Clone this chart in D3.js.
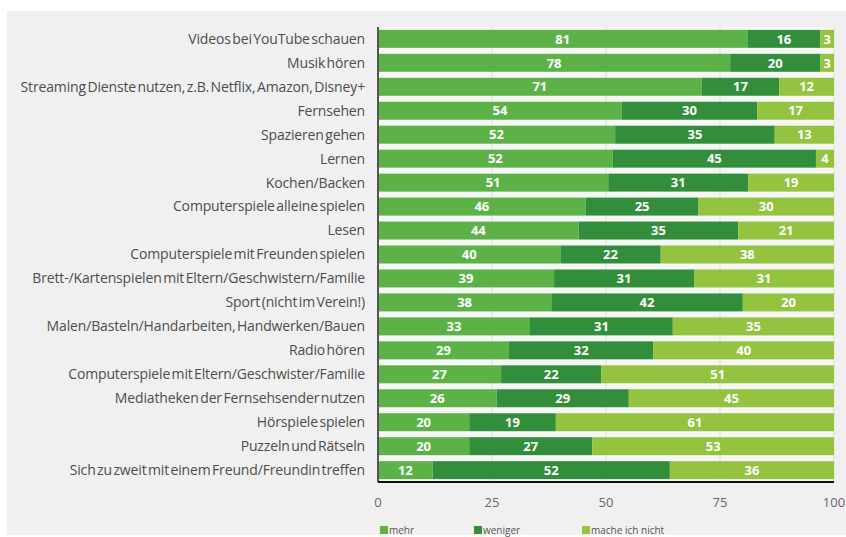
<!DOCTYPE html>
<html>
<head>
<meta charset="utf-8">
<script src="https://cdn.jsdelivr.net/npm/d3@7"></script>
<style>
  body { margin: 0; background: #fff; }
  svg { display: block; }
</style>
</head>
<body>
<svg id="chart"></svg>
<script>
// Data
const categories = [
  "Videos bei YouTube schauen",
  "Musik hören",
  "Streaming Dienste nutzen, z.B. Netflix, Amazon, Disney+",
  "Fernsehen",
  "Spazieren gehen",
  "Lernen",
  "Kochen/Backen",
  "Computerspiele alleine spielen",
  "Lesen",
  "Computerspiele mit Freunden spielen",
  "Brett-/Kartenspielen mit Eltern/Geschwistern/Familie",
  "Sport (nicht im Verein!)",
  "Malen/Basteln/Handarbeiten, Handwerken/Bauen",
  "Radio hören",
  "Computerspiele mit Eltern/Geschwister/Familie",
  "Mediatheken der Fernsehsender nutzen",
  "Hörspiele spielen",
  "Puzzeln und Rätseln",
  "Sich zu zweit mit einem Freund/Freundin treffen"
];
const mehr    = [81, 78, 71, 54, 52, 52, 51, 46, 44, 40, 39, 38, 33, 29, 27, 26, 20, 20, 12];
const weniger = [16, 20, 17, 30, 35, 45, 31, 25, 35, 22, 31, 42, 31, 32, 22, 29, 19, 27, 52];
const nicht   = [3, 3, 12, 17, 13, 4, 19, 30, 21, 38, 31, 20, 35, 40, 51, 45, 61, 53, 36];
const seriesNames = ["mehr", "weniger", "mache ich nicht"];
const seriesColors = ["#5cb247", "#338e3c", "#93c33f"];
const xTicks = [0, 25, 50, 75, 100];

const W = 846, H = 537;
const margin = { top: 27, right: 12, bottom: 55, left: 378 };

const svg = d3.select("#chart").attr("width", W).attr("height", H);

// Grey page background
svg.append("rect")
  .attr("x", 7).attr("y", 11)
  .attr("width", W - 7).attr("height", H - 13)
  .attr("fill", "#f0f0f0");

const x = d3.scaleLinear().domain([0, 100]).range([margin.left, W - margin.right]);
const y = d3.scaleBand().domain(categories).range([margin.top, H - margin.bottom]).paddingInner(0.25).paddingOuter(0.12);

// plot area background
svg.append("rect")
  .attr("x", x(0)).attr("y", margin.top)
  .attr("width", x(100) - x(0)).attr("height", H - margin.bottom - margin.top)
  .attr("fill", "#f6f6f6");

// Gridlines
svg.append("g")
  .selectAll("line")
  .data(xTicks.slice(1))
  .join("line")
  .attr("x1", d => x(d)).attr("x2", d => x(d))
  .attr("y1", margin.top).attr("y2", H - margin.bottom)
  .attr("stroke", "#dcdcdc")
  .attr("stroke-width", 1);

// Stack rows (normalised so each row fills 0..100)
const rows = categories.map((c, i) => {
  const vals = [mehr[i], weniger[i], nicht[i]];
  const total = d3.sum(vals);
  let acc = 0;
  return vals.map((v, k) => {
    const x0 = acc / total * 100;
    acc += v;
    return { cat: c, k, v, x0, x1: acc / total * 100 };
  });
});
const segs = rows.flat();

svg.append("g")
  .selectAll("rect")
  .data(segs)
  .join("rect")
  .attr("x", d => x(d.x0))
  .attr("y", d => y(d.cat))
  .attr("width", d => x(d.x1) - x(d.x0))
  .attr("height", y.bandwidth())
  .attr("fill", d => seriesColors[d.k]);

svg.append("g")
  .selectAll("text")
  .data(segs)
  .join("text")
  .attr("x", d => (x(d.x0) + x(d.x1)) / 2)
  .attr("y", d => y(d.cat) + y.bandwidth() / 2)
  .attr("dy", "0.36em")
  .attr("text-anchor", "middle")
  .attr("fill", "#fff")
  .attr("font-family", "'Open Sans', sans-serif")
  .attr("font-weight", 700)
  .attr("font-size", 13)
  .text(d => d.v);

// Category labels
svg.append("g")
  .selectAll("text")
  .data(categories)
  .join("text")
  .attr("x", x(0) - 13)
  .attr("y", d => y(d) + y.bandwidth() / 2)
  .attr("dy", "0.35em")
  .attr("text-anchor", "end")
  .attr("fill", "#4d4d4d")
  .attr("font-family", "'Open Sans', sans-serif")
  .attr("font-size", 14)
  .attr("letter-spacing", -0.15)
  .attr("word-spacing", -2)
  .text(d => d);

// Axes lines
svg.append("line")
  .attr("x1", x(0)).attr("x2", x(0))
  .attr("y1", margin.top).attr("y2", H - margin.bottom)
  .attr("stroke", "#555").attr("stroke-width", 2);

svg.append("line")
  .attr("x1", x(0)).attr("x2", x(100))
  .attr("y1", H - margin.bottom).attr("y2", H - margin.bottom)
  .attr("stroke", "#111").attr("stroke-width", 2);

// X tick labels
svg.append("g")
  .selectAll("text")
  .data(xTicks)
  .join("text")
  .attr("x", d => x(d))
  .attr("y", H - margin.bottom + 25)
  .attr("text-anchor", "middle")
  .attr("fill", "#666")
  .attr("font-family", "'Open Sans', sans-serif")
  .attr("font-size", 13)
  .text(d => d);

// Legend
const legendX = [380, 474, 582];
const legend = svg.append("g")
  .selectAll("g")
  .data(seriesNames)
  .join("g")
  .attr("transform", (d, i) => `translate(${legendX[i]}, 526)`);

legend.append("rect")
  .attr("width", 8).attr("height", 8)
  .attr("fill", (d, i) => seriesColors[i]);

legend.append("text")
  .attr("x", 9).attr("y", 7.5)
  .attr("fill", "#555")
  .attr("font-family", "'Open Sans', sans-serif")
  .attr("font-size", 10)
  .text(d => d);
</script>
</body>
</html>
